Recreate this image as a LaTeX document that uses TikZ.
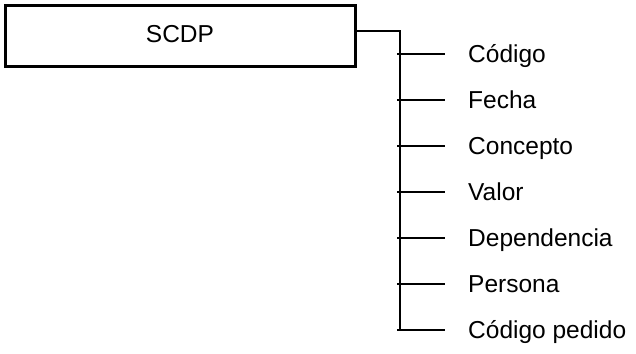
\documentclass[tikz,border=0pt]{standalone}
\usepackage{fontspec}
\setmainfont{Liberation Sans}
\begin{document}
\begin{tikzpicture}[x=1pt,y=-1pt,
  rootbox/.style={draw,line width=3pt,minimum width=350pt,minimum height=60pt,inner sep=0pt,text height=17.5pt,text depth=3.5pt,font=\fontsize{24.5}{28}\selectfont},
  leaf/.style={anchor=base west,inner sep=0pt,font=\fontsize{24.5}{28}\selectfont},
  conn/.style={line width=1.5pt}]
\useasboundingbox (0,0) rectangle (636,353);
\node[rootbox] (root) at (180,36) {SCDP};
\coordinate (j) at (400,31);
\coordinate (bot) at (400,330);
\foreach \t [count=\i] in {Código,Fecha,Concepto,Valor,Dependencia,Persona,Código pedido}{
  \node[leaf] (l\i) at (468,{62.75+46*(\i-1)}) {\t};
  \coordinate (b\i) at (397,{54+46*(\i-1)});
}
\draw[conn] ([yshift=5pt]root.east) -- (j) -- (bot);
\foreach \i in {1,...,7}{
  \draw[conn] (b\i) -- ([xshift=-23pt]l\i.west |- b\i);
}
\end{tikzpicture}
\end{document}
